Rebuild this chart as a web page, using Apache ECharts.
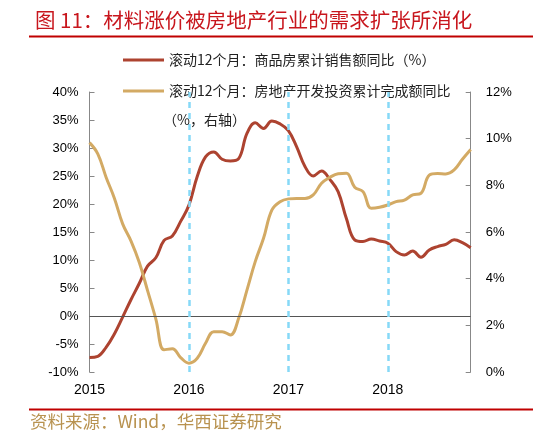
<!DOCTYPE html>
<html>
<head>
<meta charset="utf-8">
<script src="https://cdn.jsdelivr.net/npm/echarts@6/dist/echarts.min.js"></script>
<style>
html,body{margin:0;padding:0;background:#fff;}
#chart{width:533px;height:435px;}
</style>
</head>
<body>
<div id="chart"></div>
<script>
// Monthly categories Jan 2015 .. Nov 2018
var months = [];
for (var y = 2015; y <= 2018; y++) {
  for (var m = 1; m <= 12; m++) {
    if (y === 2018 && m > 11) break;
    months.push(y + '-' + (m < 10 ? '0' + m : m));
  }
}
var yearMarks = ['2016-01', '2017-01', '2018-01'];
var leftTicks = { min: -10, max: 40, interval: 5 };
var rightTicks = { min: 0, max: 12, interval: 2 };

var seriesNames = ['滚动12个月：商品房累计销售额同比（%）', '滚动12个月：房地产开发投资累计完成额同比'];

// 商品房累计销售额同比 (left axis, %)
var salesYoY = [
  -7.4, -7.2, -5.6, -3.2, -0.2, 2.9, 5.8, 8.9, 10.4, 13.5, 14.3, 16.9,
  19.8, 24.9, 28.4, 29.3, 28.0, 27.7, 28.1, 32.6, 34.5, 33.5, 34.8, 34.3,
  33.1, 30.2, 26.7, 25.0, 25.9, 24.4, 22.2, 17.4, 13.6, 13.3, 13.75, 13.4,
  13.0, 11.5, 10.9, 11.6, 10.5, 11.8, 12.4, 12.8, 13.6, 13.1, 12.2
];
// 房地产开发投资累计完成额同比 (right axis, %)
var investYoY = [
  9.83, 9.35, 8.35, 7.45, 6.35, 5.62, 4.7, 3.5, 2.28, 0.95, 1.0, 0.62,
  0.38, 0.59, 1.23, 1.73, 1.73, 1.59, 2.3, 3.51, 4.73, 5.73, 6.94, 7.3,
  7.42, 7.44, 7.44, 7.59, 8.09, 8.34, 8.5, 8.52, 7.92, 7.73, 7.02, 7.06,
  7.16, 7.3, 7.37, 7.59, 7.66, 8.44, 8.51, 8.49, 8.66, 9.12, 9.54
];

var chart = echarts.init(document.getElementById('chart'));
var axisFont = 'Liberation Sans, Arial, sans-serif';
var cjkFont = '"Noto Sans CJK SC", sans-serif';

chart.setOption({
  backgroundColor: '#fff',
  animation: false,
  title: {
    text: '图 11：材料涨价被房地产行业的需求扩张所消化',
    left: 30,
    top: 5,
    textStyle: { color: '#c8161d', fontSize: 20.5, fontWeight: 'normal', fontFamily: cjkFont }
  },
  graphic: [
    { type: 'line', shape: { x1: 29, y1: 36.5, x2: 533, y2: 36.5 }, style: { stroke: '#c00000', lineWidth: 2 } },
    { type: 'line', shape: { x1: 29, y1: 409.5, x2: 533, y2: 409.5 }, style: { stroke: '#c00000', lineWidth: 2 } },
    { type: 'text', left: 30, top: 413, style: { text: '资料来源：Wind，华西证券研究', fill: '#b8924f', fontSize: 17.5, fontFamily: cjkFont } },
    { type: 'text', left: 163, top: 113, z: 10, style: { text: '（%，右轴）', fill: '#222', fontSize: 14, fontFamily: cjkFont } }
  ],
  legend: {
    orient: 'vertical',
    left: 118,
    top: 48,
    icon: 'rect',
    itemWidth: 41,
    itemHeight: 3,
    itemGap: 17,
    textStyle: { color: '#222', fontSize: 14, fontFamily: cjkFont },
    data: seriesNames
  },
  grid: { left: 89.5, right: 62.3, top: 92, bottom: 63 },
  xAxis: {
    type: 'category',
    boundaryGap: false,
    data: months,
    axisLine: { show: false },
    axisTick: { show: false },
    splitLine: { show: false },
    axisLabel: {
      interval: function (i) { return i % 12 === 0; },
      formatter: function (v) { return v.slice(0, 4); },
      color: '#000', fontSize: 14, fontFamily: axisFont, margin: 11
    }
  },
  yAxis: [
    {
      type: 'value', min: leftTicks.min, max: leftTicks.max, interval: leftTicks.interval,
      axisLine: { show: true, onZero: false, lineStyle: { color: '#888', width: 1 } },
      axisTick: { show: true, inside: true, length: 5, lineStyle: { color: '#888' } },
      splitLine: { show: false },
      axisLabel: { formatter: '{value}%', color: '#000', fontSize: 13, fontFamily: axisFont, margin: 11 }
    },
    {
      type: 'value', min: rightTicks.min, max: rightTicks.max, interval: rightTicks.interval,
      position: 'right',
      axisLine: { show: true, onZero: false, lineStyle: { color: '#888', width: 1 } },
      axisTick: { show: true, inside: true, length: 5, lineStyle: { color: '#888' } },
      splitLine: { show: false },
      axisLabel: { formatter: '{value}%', color: '#000', fontSize: 13, fontFamily: axisFont, margin: 15 }
    }
  ],
  series: [
    {
      name: seriesNames[0],
      type: 'line',
      yAxisIndex: 0,
      data: salesYoY,
      smooth: 0.4,
      symbol: 'none',
      lineStyle: { color: '#ad4330', width: 3 },
      itemStyle: { color: '#ad4330' },
      z: 3,
      markLine: {
        silent: true,
        symbol: 'none',
        label: { show: false },
        data: [
          { yAxis: 0, lineStyle: { color: '#555', width: 1, type: 'solid' } },
          { xAxis: yearMarks[0], lineStyle: { color: '#86d9f7', width: 2.5, type: [6, 5] } },
          { xAxis: yearMarks[1], lineStyle: { color: '#86d9f7', width: 2.5, type: [6, 5] } },
          { xAxis: yearMarks[2], lineStyle: { color: '#86d9f7', width: 2.5, type: [6, 5] } }
        ]
      }
    },
    {
      name: seriesNames[1],
      type: 'line',
      yAxisIndex: 1,
      data: investYoY,
      smooth: 0.4,
      symbol: 'none',
      lineStyle: { color: '#d3aa64', width: 3 },
      itemStyle: { color: '#d3aa64' },
      z: 4
    }
  ]
});
</script>
</body>
</html>
